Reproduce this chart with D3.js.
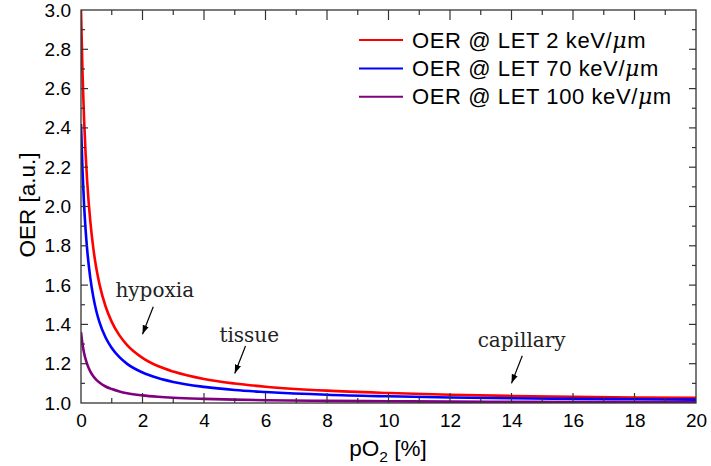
<!DOCTYPE html>
<html><head><meta charset="utf-8">
<script src="https://cdn.jsdelivr.net/npm/d3@7"></script>
<style>body{margin:0;background:#fff;} svg{display:block;}</style>
</head><body>
<svg id="c" width="711" height="466"></svg>
<script>
const pO2 = [0,0.05,0.1,0.15,0.2,0.3,0.4,0.5,0.6,0.8,1.0,1.25,1.5,2,2.5,3,4,5,6,8,10,12,14,16,18,20];
const oerLet2 = [3.000,2.677,2.444,2.268,2.130,1.929,1.788,1.684,1.605,1.491,1.413,1.344,1.295,1.230,1.188,1.160,1.122,1.099,1.083,1.063,1.051,1.042,1.036,1.032,1.028,1.026];
const oerLet70 = [2.420,2.180,2.009,1.881,1.782,1.639,1.540,1.467,1.412,1.333,1.280,1.233,1.199,1.155,1.127,1.107,1.082,1.066,1.056,1.042,1.034,1.028,1.024,1.021,1.019,1.017];
const oerLet100 = [1.360,1.298,1.255,1.223,1.198,1.161,1.136,1.118,1.104,1.084,1.071,1.059,1.050,1.039,1.032,1.027,1.021,1.017,1.014,1.011,1.009,1.007,1.006,1.005,1.005,1.004];
const seriesNames = ["OER @ LET 2 keV/", "OER @ LET 70 keV/", "OER @ LET 100 keV/"];
const seriesColors = ["#ff0000","#0000ff","#800080"];
const xTicks = [0,2,4,6,8,10,12,14,16,18,20];
const yTicks = [1.0,1.2,1.4,1.6,1.8,2.0,2.2,2.4,2.6,2.8,3.0];
const annotations = [
  {text:"hypoxia", x:1.12, y:1.54, ax1:2.35, ay1:1.49, ax2:2.0, ay2:1.35},
  {text:"tissue", x:4.5, y:1.31, ax1:5.35, ay1:1.29, ax2:5.0, ay2:1.15},
  {text:"capillary", x:12.9, y:1.285, ax1:14.35, ay1:1.24, ax2:14.0, ay2:1.10}
];

const svg = d3.select("#c");
const L=81, R=696, T=10, B=403;
const x = d3.scaleLinear().domain([0,20]).range([L,R]);
const y = d3.scaleLinear().domain([1,3]).range([B,T]);
const axisColor = "#333";
const tickFont = "'Liberation Sans', Arial, sans-serif";

svg.append("defs").append("marker").attr("id","ah").attr("viewBox","0 0 10 10")
  .attr("refX",10).attr("refY",5).attr("markerWidth",9).attr("markerHeight",9)
  .attr("markerUnits","userSpaceOnUse").attr("orient","auto")
  .append("path").attr("d","M0,1.5 L10,5 L0,8.5 Z").attr("fill","#000");

// curves
const seriesData = [oerLet2, oerLet70, oerLet100];
const line = d3.line().x(d=>x(d[0])).y(d=>y(d[1])).curve(d3.curveMonotoneX);
svg.append("clipPath").attr("id","cp").append("rect").attr("x",L).attr("y",T-2).attr("width",R-L).attr("height",B-T+2);
seriesData.forEach((s,i)=>{
  svg.append("path").datum(pO2.map((p,j)=>[p,s[j]]))
    .attr("d",line).attr("fill","none").attr("stroke",seriesColors[i])
    .attr("stroke-width",2.6).attr("clip-path","url(#cp)");
});

// ticks on all four sides, inward
const xMinor = d3.range(0,21,1);
const yMinor = d3.range(10,31,1).map(v=>v/10);
const g = svg.append("g").attr("stroke",axisColor).attr("stroke-width",1.2);
xMinor.forEach(v=>{
  const major = v%2===0; const len = major?10:5;
  if(v===0||v===20) return;
  g.append("line").attr("x1",x(v)).attr("x2",x(v)).attr("y1",B).attr("y2",B-len);
  g.append("line").attr("x1",x(v)).attr("x2",x(v)).attr("y1",T).attr("y2",T+len);
});
yMinor.forEach(v=>{
  const major = Math.round(v*10)%2===0; const len = major?7:4;
  if(v===1||v===3) return;
  g.append("line").attr("x1",L).attr("x2",L+len).attr("y1",y(v)).attr("y2",y(v));
  g.append("line").attr("x1",R).attr("x2",R-len).attr("y1",y(v)).attr("y2",y(v));
});
svg.append("rect").attr("x",L).attr("y",T).attr("width",R-L).attr("height",B-T)
  .attr("fill","none").attr("stroke",axisColor).attr("stroke-width",1.3);

// tick labels via axis generators (lines hidden)
const xa = svg.append("g").attr("transform",`translate(0,${B})`)
  .call(d3.axisBottom(x).tickValues(xTicks).tickFormat(d3.format("d")).tickSize(0).tickPadding(11));
xa.select(".domain").remove();
xa.selectAll("text").attr("font-family",tickFont).attr("font-size",19).attr("fill","#000");
const ya = svg.append("g").attr("transform",`translate(${L},0)`)
  .call(d3.axisLeft(y).tickValues(yTicks).tickFormat(d3.format(".1f")).tickSize(0).tickPadding(10));
ya.select(".domain").remove();
ya.selectAll("text").attr("font-family",tickFont).attr("font-size",19).attr("fill","#000");

// axis titles
const xt = svg.append("text").attr("x",388).attr("y",456).attr("text-anchor","middle")
  .attr("font-family",tickFont).attr("font-size",22.5).attr("fill","#000");
xt.append("tspan").text("pO");
xt.append("tspan").text("2").attr("font-size",15.5).attr("dy",6);
xt.append("tspan").text(" [%]").attr("dy",-6);
svg.append("text").attr("transform","translate(35,205) rotate(-90)").attr("text-anchor","middle")
  .attr("font-family",tickFont).attr("font-size",22.5).attr("fill","#000").text("OER [a.u.]");

// legend
seriesNames.forEach((n,i)=>{
  const yy = 40 + i*28.4;
  svg.append("line").attr("x1",359).attr("x2",403).attr("y1",yy).attr("y2",yy)
    .attr("stroke",seriesColors[i]).attr("stroke-width",2);
  const t = svg.append("text").attr("x",412).attr("y",yy+7.5).attr("font-family",tickFont)
    .attr("font-size",22).attr("letter-spacing",0.6).attr("fill","#000");
  t.append("tspan").text(n);
  t.append("tspan").text("\u03bc").attr("font-family","'DejaVu Serif', serif").attr("font-style","italic");
  t.append("tspan").text("m");
});

// annotations
annotations.forEach(a=>{
  svg.append("text").attr("x",x(a.x)).attr("y",y(a.y)).attr("font-family","'DejaVu Serif', serif")
    .attr("font-size",20).attr("fill","#222").text(a.text);
  svg.append("line").attr("x1",x(a.ax1)).attr("y1",y(a.ay1)).attr("x2",x(a.ax2)).attr("y2",y(a.ay2))
    .attr("stroke","#000").attr("stroke-width",1.2).attr("marker-end","url(#ah)");
});
</script>
</body></html>
